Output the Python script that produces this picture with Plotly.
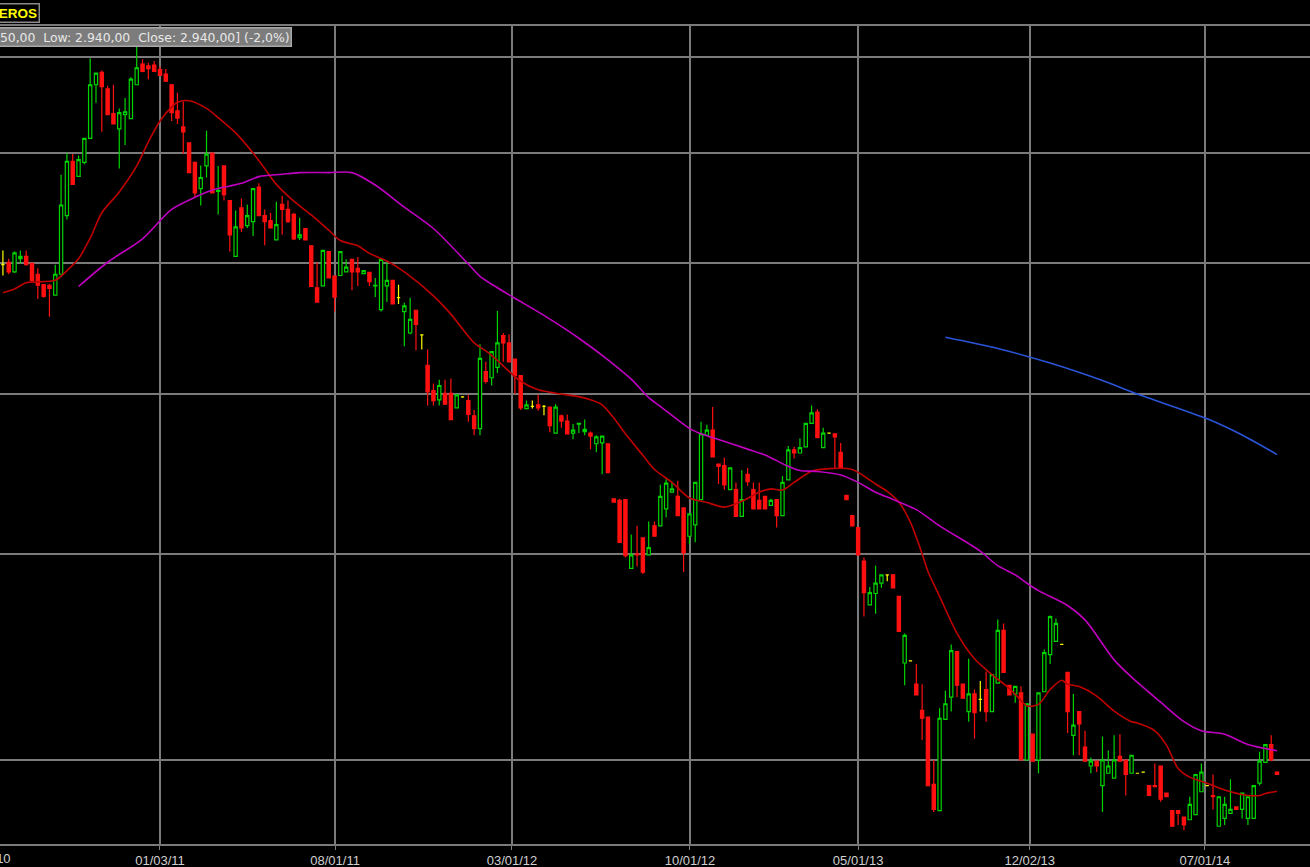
import plotly.graph_objects as go

# ---- weekly OHLC ----
opens = [5990,6010,5930,6040,6060,6000,5910,5825,5820,5740,
         5910,6415,6920,6775,6910,7145,7700,7835,7655,7395,
         7240,7385,7345,7700,7925,7905,7915,7865,7815,7700,
         7425,7260,7100,6910,6660,6875,7000,6635,6875,6550,
         6060,6485,6325,6360,6675,6415,6370,6200,6515,6470,
         6425,6220,6300,6150,5800,5815,6100,5895,5900,5930,
         6035,5960,5915,5925,5815,5625,5815,5860,5720,5610,
         5445,5620,5430,5205,5025,4960,5005,5005,4905,4980,
         4955,4850,4765,5160,5115,5190,5425,5370,5250,5130,
         4900,4915,4925,4915,4910,4735,4850,4815,4735,4795,
         4745,4735,4665,4670,4665,4320,4310,4315,3920,4000,
         4090,3995,4160,4160,4260,4360,4335,4265,4100,4165,
         4315,4720,4755,4535,4525,4375,4375,4215,4470,4375,
         4310,4335,4280,4315,4220,4435,4625,4605,4645,4800,
         4875,4640,4735,4730,4610,4340,4220,4150,3960,3725,
         3785,3840,3885,3885,3770,3435,3445,3335,3215,3185,
         2900,2795,3175,3275,3490,3335,3210,3290,3265,3310,
         3210,3340,3595,3330,3290,3295,3000,3110,3000,3300,
         3475,3540,3525,3390,3105,3210,3055,2975,2995,2895,
         2945,2925,3015,3000,2945,2945,2950,2895,2895,2975,
         2865,2795,2795,2770,2760,2780,2870,2895,2855,2735,
         2765,2785,2810,2800,2765,2765,2905,2990,3065,2950]
highs = [6110,6040,6100,6110,6110,6000,5960,5830,5830,5990,
         6790,7000,6990,6975,7150,7990,7830,7855,7690,7700,
         7450,7560,7780,8125,7980,7940,7960,7900,7870,7700,
         7615,7520,7100,6910,6880,7220,7000,6875,6875,6550,
         6460,6570,6515,6660,6710,6470,6440,6540,6595,6550,
         6440,6395,6300,6150,6010,6110,6100,5895,6100,6035,
         6035,6055,5940,5925,5880,6035,6010,5860,5825,5680,
         5720,5620,5430,5320,5075,5100,5100,5110,4995,4985,
         4995,4890,5360,5230,5305,5615,5445,5435,5250,5130,
         4955,4955,4995,4925,4910,4930,4860,4860,4795,4800,
         4825,4745,4720,4715,4665,4320,4320,4315,4110,4160,
         4090,4185,4185,4405,4440,4425,4430,4265,4230,4420,
         4810,4790,4910,4535,4575,4510,4420,4495,4510,4420,
         4420,4335,4320,4315,4460,4650,4645,4700,4800,4920,
         4895,4770,4735,4730,4670,4340,4220,4150,3980,3820,
         3935,3885,3885,3885,3770,3580,3445,3430,3335,3185,
         3000,3225,3305,3525,3490,3335,3455,3310,3350,3395,
         3380,3650,3630,3330,3325,3325,3245,3110,3295,3500,
         3670,3655,3525,3390,3290,3210,3125,3010,2995,3100,
         3040,3105,3110,3000,3020,2945,2950,2895,2985,2975,
         2865,2795,2795,2770,2850,2940,2985,2895,2940,2850,
         2850,2920,2810,2865,2850,2895,3035,3065,3105,2950]
lows = [5900,5910,5920,6000,5980,5850,5710,5720,5570,5735,
        5910,6380,6700,6770,6890,7145,7510,7210,7385,7290,
        6850,7080,7345,7700,7835,7760,7840,7800,7730,7320,
        7290,6990,6810,6575,6505,6765,6620,6425,6550,6100,
        6060,6270,6305,6235,6415,6155,6300,6200,6245,6350,
        6200,6200,6200,5810,5685,5815,5880,5610,5900,5930,
        5780,5815,5915,5815,5725,5610,5685,5670,5670,5345,
        5435,5315,5320,4920,4920,4920,4930,4825,4905,4975,
        4810,4720,4720,5075,5060,5150,5230,5230,5000,4890,
        4900,4900,4885,4855,4740,4735,4770,4725,4695,4735,
        4720,4630,4610,4470,4480,4300,4065,3980,3920,3930,
        3890,3995,4100,4160,4210,4355,4220,3900,4055,4065,
        4315,4720,4580,4410,4375,4375,4215,4215,4400,4260,
        4260,4260,4280,4150,4220,4435,4570,4605,4645,4800,
        4705,4640,4735,4510,4510,4315,4160,3990,3665,3725,
        3680,3815,3850,3815,3590,3330,3445,3285,3085,2895,
        2790,2795,3175,3210,3275,3270,3165,3090,3210,3165,
        3210,3340,3390,3285,3250,3000,3000,2995,2945,3300,
        3430,3540,3525,3115,3020,3020,2995,2945,2950,2790,
        2945,2925,2995,2855,2945,2945,2950,2855,2890,2830,
        2850,2735,2740,2720,2760,2780,2870,2895,2800,2735,
        2740,2785,2800,2765,2740,2765,2895,2990,2995,2940]
closes = [5990,5930,6090,6060,5990,5855,5820,5730,5795,5910,
          6510,6920,6700,6935,7145,7700,7825,7680,7385,7290,
          7405,7415,7760,7885,7845,7875,7845,7800,7740,7405,
          7350,7210,6810,6620,6765,6990,6620,6645,6605,6245,
          6315,6305,6415,6660,6415,6360,6305,6335,6470,6360,
          6210,6245,6200,5810,5685,6110,5880,5725,6100,5970,
          5930,5930,5940,5850,5820,6035,5860,5670,5720,5655,
          5550,5510,5430,5015,4955,5060,4930,4825,4995,4980,
          4860,4765,5255,5090,5305,5370,5370,5230,5130,4905,
          4925,4915,4905,4915,4785,4910,4815,4730,4755,4800,
          4760,4715,4710,4715,4480,4300,4065,3990,3995,3995,
          3900,4035,4100,4335,4415,4380,4220,4005,4230,4420,
          4730,4755,4580,4520,4405,4510,4215,4315,4425,4260,
          4260,4260,4310,4220,4420,4625,4605,4640,4800,4870,
          4705,4735,4735,4710,4510,4315,4160,3995,3790,3790,
          3840,3885,3885,3815,3590,3570,3445,3285,3180,2895,
          2800,3180,3245,3495,3330,3270,3290,3205,3265,3210,
          3380,3595,3390,3285,3325,3000,3245,2995,3295,3485,
          3665,3630,3525,3210,3150,3155,2995,2995,2975,3000,
          2975,3000,2995,2940,3020,2945,2950,2855,2890,2840,
          2850,2735,2785,2740,2820,2940,2950,2895,2850,2850,
          2820,2800,2800,2865,2850,2895,2995,3065,3000,2940]
bars = list(range(len(closes)))

# ---- moving averages ----
ma_red_bar = [0,2,4,9,11,13,15,17,20,23,25,27,29,30,32,35,37,40,43,45,47,50,53,56,58,61,63,66,69,74,
              77,81,83,85,89,92,95,99,101,103,105,107,110,112,115,118,121,124,127,130,132,134,136,139,142,146,
              150,152,154,156,158,159,161,164,167,170,173,175,176,178,180,182,183,185,188,191,194,195,198,200,
              202,204,207,210,214,216,217,219]
ma_red_val = [5760,5790,5840,5860,5940,6040,6215,6440,6630,6875,7110,7320,7465,7515,7530,7450,7355,7200,7000,6850,
              6700,6545,6420,6285,6195,6150,6085,6020,5930,5735,5590,5370,5310,5240,5090,5030,5006,4982,4960,4925,
              4835,4730,4590,4500,4420,4325,4298,4270,4305,4360,4380,4373,4420,4490,4506,4500,4410,4365,4300,4180,
              4000,3903,3770,3580,3455,3380,3315,3260,3235,3242,3310,3353,3335,3324,3280,3212,3165,3159,3125,3063,
              2965,2929,2904,2877,2855,2855,2863,2872]
ma_mag_bar = [13,18,24,29,33,36,41,44,48,51,56,60,64,69,74,80,82,85,88,93,99,104,108,111,113,118,120,123,128,131,
              135,137,140,144,147,150,153,157,161,166,168,171,174,176,178,183,186,191,194,199,203,206,210,214,219]
ma_mag_val = [5810,6010,6210,6470,6580,6648,6710,6773,6795,6811,6811,6811,6694,6490,6300,5995,5893,5800,5715,5580,
              5405,5245,5105,4975,4915,4766,4730,4692,4630,4592,4520,4494,4488,4466,4420,4360,4316,4255,4160,4058,
              4015,3935,3885,3840,3800,3722,3648,3450,3368,3252,3165,3125,3110,3066,3039]
ma_blue_bar = [162,171,180,189,195,207,213,219]
ma_blue_val = [5412,5328,5221,5095,5000,4830,4722,4595]

# ---- axis labels ----
tick_bar = [27, 57.1, 87.5, 118.1, 147.0, 176.5, 206.6]
tick_text = ["01/03/11", "08/01/11", "03/01/12", "10/01/12", "05/01/13", "12/02/13", "07/01/14"]
first_label = "06/01/10"
grid_prices = [3000, 4000, 5000, 6000, 7000, 8000]

GREEN = "#00d400"
RED = "#ff1010"
YELLOW = "#ffff00"

def pick(cond):
    idx = [i for i in bars if cond(opens[i], closes[i])]
    return (idx, [opens[i] for i in idx], [highs[i] for i in idx],
            [lows[i] for i in idx], [closes[i] for i in idx])

fig = go.Figure()
for cond, fill, col in [
    (lambda o, c: c > o, "#000000", GREEN),
    (lambda o, c: c < o, RED, RED),
    (lambda o, c: c == o, YELLOW, YELLOW),
]:
    x, o, h, l, c = pick(cond)
    fig.add_trace(go.Candlestick(
        x=x, open=o, high=h, low=l, close=c,
        increasing=dict(line=dict(color=col, width=1.2), fillcolor=fill),
        decreasing=dict(line=dict(color=col, width=1.2), fillcolor=fill),
        whiskerwidth=0, showlegend=False, hoverinfo="skip"))

for bx, vals, col in [(ma_red_bar, ma_red_val, "#c00000"),
                      (ma_mag_bar, ma_mag_val, "#c000c0"),
                      (ma_blue_bar, ma_blue_val, "#2a55d8")]:
    fig.add_trace(go.Scatter(x=bx, y=vals, mode="lines",
                             line=dict(color=col, width=1.6, shape="spline", smoothing=0.8),
                             showlegend=False, hoverinfo="skip"))

W, H = 1310, 867
T, B = 26, 23
plot_h = H - T - B

fig.update_layout(
    width=W, height=H,
    margin=dict(l=0, r=0, t=T, b=B, pad=0),
    paper_bgcolor="#000000", plot_bgcolor="#000000",
    boxgap=0.2,
    xaxis=dict(range=[-0.5, 224.67], tickmode="array", tickvals=tick_bar, ticktext=tick_text,
               showgrid=True, gridcolor="#7a7a7a", gridwidth=1.5, zeroline=False,
               showline=True, linecolor="#7a7a7a", linewidth=1.5, mirror=True,
               ticks="outside", ticklen=4, tickcolor="#7a7a7a",
               tickfont=dict(family="Liberation Sans", size=13, color="#d0d0d0"),
               rangeslider=dict(visible=False), fixedrange=True),
    yaxis=dict(type="log", range=[3.4262, 3.9221], tickmode="array", tickvals=grid_prices,
               showticklabels=False, showgrid=True, gridcolor="#7a7a7a", gridwidth=1.5,
               zeroline=False, showline=False, ticks="", fixedrange=True),
    annotations=[
        dict(text="&nbsp;&nbsp;&nbsp;<b>EROS</b>", xref="paper", yref="paper", x=40 / W, y=(H - B - 3) / plot_h,
             xanchor="right", yanchor="top", showarrow=False,
             font=dict(family="Liberation Sans", size=13.5, color=YELLOW),
             bgcolor="#000000", bordercolor="#8a8a8a", borderwidth=1.5, borderpad=1),
        dict(text="[Open: 2.950,00  High: 2.950,00  Low: 2.940,00  Close: 2.940,00] (-2,0%)",
             xref="paper", yref="paper", x=292 / W, y=(H - B - 27) / plot_h,
             xanchor="right", yanchor="top", showarrow=False,
             font=dict(family="DejaVu Sans", size=12.4, color="#e8e8e8"),
             bgcolor="#7c7c7c", bordercolor="#a8a8a8", borderwidth=1.5, borderpad=1),
        dict(text=first_label, xref="paper", yref="paper", x=-15 / W, y=-5 / plot_h,
             xanchor="center", yanchor="top", showarrow=False,
             font=dict(family="Liberation Sans", size=13, color="#d0d0d0")),
    ],
)

fig.write_html("out.html", config={"displayModeBar": False},
               post_script="document.body.style.margin='0';document.body.style.overflow='hidden';")
